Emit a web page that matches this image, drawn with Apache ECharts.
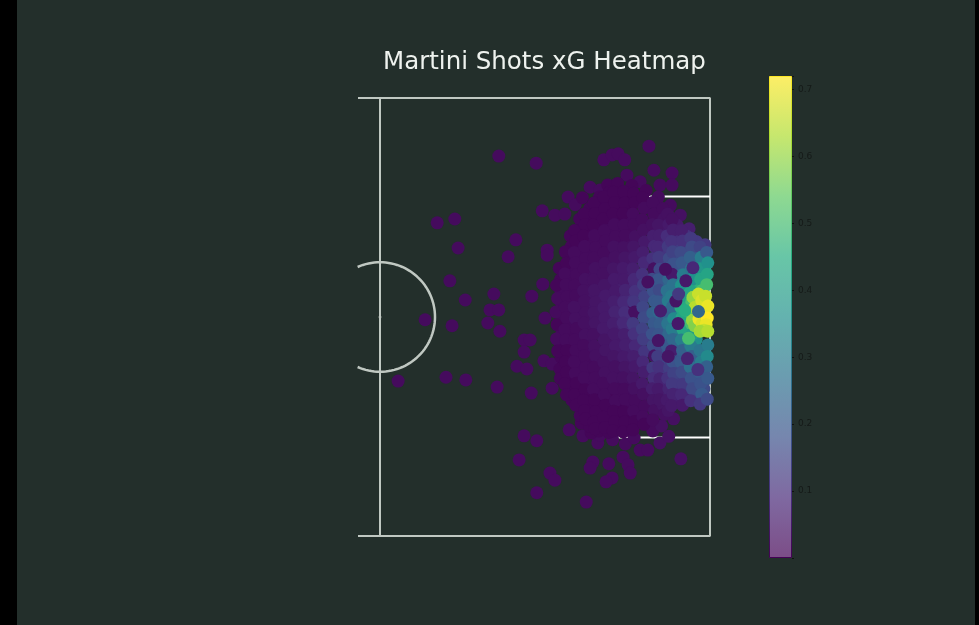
<!DOCTYPE html>
<html><head><meta charset="utf-8">
<script src="https://cdn.jsdelivr.net/npm/echarts@6/dist/echarts.min.js"></script>
<style>html,body{margin:0;padding:0;background:#000;overflow:hidden}#c{position:absolute;left:17px;top:0;width:958px;height:625px}</style>
</head><body><div id="c"></div><script>
const titleText = 'Martini Shots xG Heatmap';
const colorbarTicks = [0.1,0.2,0.3,0.4,0.5,0.6,0.7];
const viridis = ['#440154','#472d7b','#3b528b','#2c728e','#21918c','#27ad81','#5ec962','#addc30','#fde725'];
const viridisFaded = ['#7c4d87','#7f69a1','#7686ae','#6b9cb0','#64b2af','#68c6a7','#8ed991','#c6e76e','#fdee66'];
// [x, y, xG] in pitch units
const outlierShots = [[81.6,10.6,.02],[88.4,11.9,.02],[100.7,11.3,.02],[102.2,10.4,.02],[103.3,10.2,.02],[108.9,8.8,.02],[70.4,22.8,.02],[73.6,22.1,.02],[74.2,27.4,.02],[84.7,25.9,.02],[89.5,20.6,.02],[83.3,29,.02],[90.4,27.8,.02],[90.4,28.7,.02],[72.7,33.4,.02],[75.5,36.9,.02],[80.7,35.8,.02],[80,38.7,.02],[81.6,38.7,.02],[79.6,41.1,.02],[81.8,42.6,.02],[68.2,40.5,.02],[73.1,41.6,.02],[89.6,34,.02],[87.6,36.2,.02],[90,40.2,.02],[86.2,44.2,.02],[87.3,44.2,.02],[86.2,46.4,.02],[84.9,49,.02],[86.7,49.5,.02],[89.8,48,.02],[91.3,48.6,.02],[72,51,.02],[75.6,51.5,.02],[63.3,51.7,.02],[81.3,52.8,.02],[87.5,53.9,.02],[91.3,53,.02],[86.2,61.7,.02],[88.5,62.6,.02],[85.3,66.1,.02],[90.9,68.5,.02],[91.8,69.8,.02],[88.5,72.1,.02],[97.5,73.8,.02],[98.7,66.5,.02],[98.2,67.6,.02],[101.6,66.8,.02],[104.2,65.6,.02],[105.1,67,.02],[105.5,68.5,.02],[102.2,69.4,.02],[101.1,70.1,.02],[114.7,65.9,.03],[94.4,60.6,.02],[96.9,61.7,.02],[99.6,63,.02],[100,61.6,.02],[107.3,64.3,.02],[108.7,64.3,.02],[110.9,63,.03],[104.5,11.3,.02],[109.8,13.2,.02],[113.1,13.7,.02],[104.9,14.1,.02],[107.3,15.3,.02],[110.9,15.9,.02],[113.1,15.9,.02],[94.2,18.1,.02],[91.8,21.4,.02],[93.6,21.2,.02],[98.2,16.3,.02],[100,16.8,.02],[95.5,19.5,.02],[102.3,62.4,.02],[104.6,63.2,.02],[112.5,61.8,.03],[106.2,62.1,.02],[101.4,15.9,.01],[103.2,15.6,.01],[105.8,16,.01],[108.4,16.9,.01],[96.8,18.2,.01],[110.6,18.1,.02],[112.8,19.6,.02],[114.6,21.4,.03],[116.2,23.9,.06],[109.6,60.8,.02],[111.2,59.9,.03],[113.4,58.6,.03],[96.6,59.4,.01],[98.4,61.2,.01]];
const longRangeFill = [[92.6,31.1,.01],[92.8,33.2,.01],[92.9,35.4,.02],[93,37.4,.02],[92.8,39.4,.02],[93,43.2,.02],[92.8,45.2,.01],[92.9,47.3,.01],[92.7,49.5,.01],[92.8,51.2,.01],
[94.6,25.2,.01],[94.8,27.1,.01],[94.7,29.1,.02],[94.9,31.2,.02],[94.6,33.1,.02],[94.8,35.3,.02],[94.7,37.2,.03],[94.9,39.1,.03],[94.6,41.2,.02],[94.8,43.1,.02],[94.7,45.3,.02],[94.9,47.2,.02],[94.6,49.1,.01],[94.8,51.2,.01],[94.7,53.1,.01],[94.9,55.2,.01],
[96.3,22.1,.01],[96.5,24.2,.01],[96.2,26.1,.01],[96.4,28.2,.02],[96.6,30.1,.02],[96.3,32.3,.02],[96.5,34.2,.03],[96.2,36.1,.03],[96.4,38.2,.03],[96.6,40.1,.03],[96.3,42.3,.03],[96.5,44.2,.02],[96.2,46.1,.02],[96.4,48.2,.02],[96.6,50.1,.02],[96.3,52.3,.01],[96.5,54.2,.01],[96.2,56.1,.01],[96.4,58,.01],
[98.1,20.2,.01],[98.3,22.1,.01],[98,24.2,.01],[98.2,26.1,.02],[98.4,28.3,.02],[98.1,30.2,.02],[98.3,32.1,.03],[98,34.2,.03],[98.2,36.1,.04],[98.4,38.3,.04],[98.1,40.2,.04],[98.3,42.1,.03],[98,44.2,.03],[98.2,46.1,.03],[98.4,48.3,.02],[98.1,50.2,.02],[98.3,52.1,.02],[98,54.2,.01],[98.2,56.1,.01],[98.4,58.3,.01],[98.1,60,.01],
[99.9,18.1,.01],[100.1,19.3,.01],[99.8,21.2,.01],[100,23.1,.01],[100.2,25.3,.02],[99.9,27.2,.02],[100.1,29.1,.03],[99.8,31.2,.03],[100,33.1,.04],[100.2,35.3,.04],[99.9,37.2,.05],[100.1,39.1,.05],[99.8,41.2,.04],[100,43.1,.04],[100.2,45.3,.03],[99.9,47.2,.03],[100.1,49.1,.02],[99.8,51.2,.02],[100,53.1,.02],[100.2,55.3,.01],[99.9,57.2,.01],[100.1,59.1,.01],[99.8,60.8,.01],
[101.7,17.2,.01],[101.9,18.9,.01],[101.6,21.1,.01],[101.8,23.2,.02],[102,25.1,.02],[101.7,27.3,.02],[101.9,29.2,.03],[101.6,31.1,.03],[101.8,33.2,.04],[102,35.1,.05],[101.7,37.3,.05],[101.9,39.2,.06],[101.6,41.1,.05],[101.8,43.2,.05],[102,45.1,.04],[101.7,47.3,.03],[101.9,49.2,.03],[101.6,51.1,.02],[101.8,53.2,.02],[102,55.1,.01],[101.7,57.3,.01],[101.9,59.2,.01],[101.6,61.1,.01],
[103.5,18.1,.01],[103.7,20.2,.01],[103.4,22.1,.01],[103.6,24.2,.02],[103.8,26.1,.02],[103.5,28.3,.03],[103.7,30.2,.04],[103.4,32.1,.05],[103.6,34.2,.06],[103.8,36.1,.07],[103.5,38.3,.07],[103.7,40.2,.07],[103.4,42.1,.07],[103.6,44.2,.05],[103.8,46.1,.05],[103.5,48.3,.04],[103.7,50.2,.03],[103.4,52.1,.02],[103.6,54.2,.02],[103.8,56.1,.01],[103.5,58.3,.01],[103.7,60.2,.01],
[105.3,18.2,.01],[105.5,20.1,.01],[105.2,22.2,.02],[105.4,24.1,.02],[105.6,26.3,.03],[105.3,28.2,.04],[105.5,30.1,.05],[105.2,32.2,.06],[105.4,34.1,.08],[105.6,36.3,.09],[105.3,38.2,.03],[105.5,40.1,.1],[105.2,42.2,.09],[105.4,44.1,.07],[105.6,46.3,.06],[105.3,48.2,.05],[105.5,50.1,.04],[105.2,52.2,.03],[105.4,54.1,.02],[105.6,56.3,.02],[105.3,58.2,.01],[105.5,60.1,.01]];
const longRangeShots = [[92.1,34.2,.01],[92.3,36.6,.02],[92,39.1,.02],[92.2,41.4,.01],[92.1,44,.02],[92.3,46.2,.01],
[93.7,28.1,.01],[93.9,30.2,.01],[93.6,32.1,.02],[93.8,34.1,.02],[94,36.3,.02],[93.7,38.2,.02],[93.9,40.1,.02],[93.6,42.3,.02],[93.8,44.2,.02],[94,46.1,.01],[93.7,48.2,.01],[93.9,50.1,.01],[93.6,52.2,.01],[93.9,54.2,.01],
[95.4,24.2,.01],[95.6,26.1,.01],[95.3,28.2,.02],[95.5,30.1,.02],[95.7,32.3,.02],[95.4,34.2,.02],[95.6,36.1,.02],[95.3,38.2,.03],[95.5,40.3,.03],[95.7,42.1,.02],[95.4,44.2,.02],[95.6,46.1,.02],[95.3,48.2,.02],[95.5,50.3,.02],[95.7,52.1,.01],[95.4,54.2,.01],[95.6,56.1,.01],
[97.1,21.2,.01],[97.3,23.1,.01],[97,25.2,.01],[97.2,27.1,.02],[97.4,29.3,.02],[97.1,31.2,.02],[97.3,33.1,.03],[97,35.2,.03],[97.2,37.1,.03],[97.4,39.2,.03],[97.1,41.1,.03],[97.3,43.3,.03],[97,45.2,.02],[97.2,47.1,.02],[97.4,49.2,.02],[97.1,51.1,.02],[97.3,53.3,.01],[97,55.2,.01],[97.2,57.1,.01],[97.4,58.6,.01]];
const edgeOfBoxShots = [[98.9,19.2,.01],[99.1,21.1,.01],[98.8,23.2,.01],[99,25.1,.02],[99.2,27.3,.02],[98.9,29.2,.02],[99.1,31.1,.03],[98.8,33.2,.03],[99,35.1,.04],[99.2,37.3,.04],[98.9,39.2,.04],[99.1,41.1,.04],[98.8,43.2,.03],[99,45.3,.03],[99.2,47.1,.03],[98.9,49.2,.02],[99.1,51.1,.02],[98.8,53.2,.02],[99,55.1,.01],[99.2,57.3,.01],[98.9,59.2,.01],[99.1,60.4,.01],
[100.7,18.1,.01],[100.9,20.2,.01],[100.6,22.1,.01],[100.8,24.2,.02],[101,26.1,.02],[100.7,28.3,.02],[100.9,30.2,.03],[100.6,32.1,.03],[100.8,34.2,.04],[101,36.1,.05],[100.7,38.3,.05],[100.9,40.2,.05],[100.6,42.1,.05],[100.8,44.2,.04],[101,46.1,.04],[100.7,48.3,.03],[100.9,50.2,.03],[100.6,52.1,.02],[100.8,54.2,.02],[101,56.1,.01],[100.7,58.3,.01],[100.9,60.2,.01],
[102.5,17.2,.01],[102.7,19.1,.01],[102.4,21.2,.01],[102.6,23.1,.02],[102.8,25.3,.02],[102.5,27.2,.03],[102.7,29.1,.03],[102.4,31.2,.04],[102.6,33.1,.05],[102.8,35.3,.05],[102.5,37.2,.06],[102.7,39.1,.07],[102.4,41.2,.06],[102.6,43.1,.05],[102.8,45.3,.05],[102.5,47.2,.04],[102.7,49.1,.03],[102.4,51.2,.03],[102.6,53.1,.02],[102.8,55.3,.02],[102.5,57.2,.01],[102.7,59.1,.01],[102.4,60.8,.01],
[104.3,17.1,.01],[104.5,19.2,.01],[104.2,21.1,.01],[104.4,23.2,.02],[104.6,25.1,.02],[104.3,27.3,.03],[104.5,29.2,.04],[104.2,31.1,.05],[104.4,33.2,.05],[104.6,35.1,.07],[104.3,37.3,.08],[104.5,39.2,.09],[104.2,41.1,.08],[104.4,43.2,.06],[104.6,45.1,.06],[104.3,47.3,.05],[104.5,49.2,.04],[104.2,51.1,.03],[104.4,53.2,.02],[104.6,55.1,.02],[104.3,57.3,.01],[104.5,59.2,.01],[104.2,61,.01]];
const insideBoxShots = [[106.1,17.4,.01],[106.3,19.1,.01],[106,21.2,.02],[106.2,23.1,.02],[106.4,25.3,.03],[106.1,27.2,.04],[106.3,29.1,.05],[106,31.2,.06],[106.2,33.1,.08],[106.4,35.3,.1],[106.1,37.2,.11],[106.3,39.1,.03],[106,41.2,.12],[106.2,43.1,.1],[106.4,45.3,.08],[106.1,47.2,.06],[106.3,49.1,.05],[106,51.2,.04],[106.2,53.1,.03],[106.4,55.3,.02],[106.1,57.2,.02],[106.3,59.1,.01],[106,60.6,.01],
[107.8,18.2,.01],[108,20.1,.02],[107.7,22.2,.02],[107.9,24.1,.03],[108.1,26.3,.05],[107.8,28.2,.06],[108,30.1,.08],[107.7,32.2,.1],[107.9,34.1,.13],[108.1,36.3,.14],[107.8,38.2,.15],[108,40.1,.16],[107.7,42.2,.14],[107.9,44.1,.13],[108.1,46.3,.11],[107.8,48.2,.08],[108,50.1,.06],[107.7,52.2,.05],[107.9,54.1,.03],[108.1,56.3,.02],[107.8,58.2,.02],[108,59.6,.01],
[109.6,19.1,.02],[109.8,21.2,.02],[109.5,23.1,.03],[109.7,25.2,.06],[109.9,27.1,.08],[109.6,29.3,.1],[109.8,31.2,.03],[109.5,33.1,.16],[109.7,35.2,.18],[109.9,37.1,.2],[109.6,39.3,.22],[109.8,41.2,.2],[109.5,43.1,.18],[109.7,45.2,.16],[109.9,47.1,.04],[109.6,49.3,.12],[109.8,51.2,.09],[109.5,53.1,.06],[109.7,55.2,.04],[109.9,57.1,.03],[109.6,58.8,.02],
[111.4,20.2,.02],[111.6,22.1,.03],[111.3,24.2,.05],[111.5,26.1,.08],[111.7,28.3,.11],[111.4,30.2,.14],[111.6,32.1,.18],[111.3,34.2,.22],[111.5,36.1,.25],[111.7,38.3,.28],[111.4,40.2,.26],[111.6,42.1,.24],[111.3,44.2,.22],[111.5,46.1,.2],[111.7,48.3,.15],[111.4,50.2,.12],[111.6,52.1,.09],[111.3,54.2,.06],[111.5,56.1,.04],[111.7,57.8,.03]];
const insideBoxFill = [[110.6,23.2,.04],[110.8,25.1,.06],[110.5,27.2,.08],[110.7,29.1,.12],[110.9,31.3,.15],[110.6,33.2,.19],[110.8,35.1,.16],[110.5,37.2,.2],[110.7,39.1,.24],[110.9,41.3,.21],[110.6,43.2,.19],[110.8,45.1,.15],[110.5,47.2,.13],[110.7,49.1,.1],[110.9,51.3,.07],[110.6,53.2,.05],[110.8,55.1,.04],
[112.3,21.2,.03],[112.5,23.1,.05],[112.2,25.2,.09],[112.4,27.1,.12],[112.6,29.3,.16],[112.3,31.2,.2],[112.5,33.1,.24],[112.2,35.2,.27],[112.4,37.1,.3],[112.6,39.3,.22],[112.3,41.2,.28],[112.5,43.1,.24],[112.2,45.2,.2],[112.4,47.1,.17],[112.6,49.3,.13],[112.3,51.2,.1],[112.5,53.1,.07],[112.2,55.2,.05],[112.4,57.1,.04],
[114,23.2,.05],[114.2,25.1,.09],[113.9,27.2,.13],[114.1,29.1,.17],[114.3,31.3,.22],[114,33.2,.3],[114.2,35.1,.34],[113.9,37.2,.36],[114.1,39.1,.38],[114.3,41.3,.3],[114,43.2,.3],[114.2,45.1,.24],[113.9,47.2,.2],[114.1,49.1,.16],[114.3,51.3,.13],[114,53.2,.09],[114.2,55.1,.06],
[115.7,25.2,.1],[115.9,27.1,.14],[115.6,29.2,.18],[115.8,31.1,.24],[116,33.3,.33],[115.7,35.2,.4],[115.9,37.1,.46],[115.6,39.2,.48],[115.8,41.1,.46],[116,43.3,.34],[115.7,45.2,.26],[115.9,47.3,.2],[115.6,49.2,.2],[115.8,51.1,.16],[116,53.3,.12],[115.7,55.2,.08],
[117.5,26.2,.12],[117.7,28.1,.2],[117.4,30.2,.3],[117.6,32.1,.36],[117.8,34.3,.46],[117.5,44.1,.36],[117.7,46.2,.28],[117.4,48.1,.24],[117.6,50.2,.2],[117.8,52.1,.16],[117.5,54.2,.14],[118.8,50.4,.22],[118.9,53.1,.16],[119.1,26.8,.12]];
const closeRangeShots = [[113.1,22.2,.03],[113.3,24.1,.06],[113,26.2,.1],[113.2,28.1,.14],[113.4,30.3,.18],[113.1,32.2,.05],[113.3,34.1,.27],[113,36.2,.3],[113.2,38.1,.24],[113.4,40.3,.34],[113.1,42.2,.3],[113.3,44.1,.24],[113,46.2,.06],[113.2,48.1,.18],[113.4,50.3,.14],[113.1,52.2,.12],[113.3,54.1,.07],[113,56.2,.05],
[114.8,24.2,.06],[115,26.1,.1],[114.7,28.2,.16],[114.9,30.1,.2],[115.1,32.3,.3],[114.8,34.2,.36],[115,36.1,.4],[114.7,38.2,.44],[114.9,40.1,.42],[115.1,42.3,.42],[114.8,44.2,.3],[115,46.1,.22],[114.7,48.2,.2],[114.9,50.1,.16],[115.1,52.3,.12],[114.8,54.2,.08],[115,56.1,.05],
[116.5,25.6,.12],[116.7,27.2,.16],[116.4,29.1,.22],[116.6,31.2,.28],[116.8,33.1,.36],[116.5,35.3,.42],[116.7,37.2,.5],[116.4,39.1,.54],[116.6,41.2,.5],[116.8,43.1,.4],[116.5,45.3,.3],[116.7,47.2,.22],[116.4,49.1,.26],[116.6,51.2,.18],[116.8,53.1,.16],[116.5,55.3,.1],
[118.2,27.2,.14],[118.4,29.1,.3],[118.1,31.2,.38],[118.3,33.1,.42],[118.5,35.2,.5],[118.2,46.1,.28],[118.4,48.2,.3],[118.1,50.1,.2],[118.3,52.2,.18],[118.5,54.1,.2],[118.2,55.9,.12],
[119.4,28.2,.2],[119.6,30.1,.36],[119.5,32.2,.42],[119.4,34.1,.5],[119.6,45.1,.3],[119.5,47.2,.34],[119.4,49.1,.22],[119.6,51.2,.2],[119.5,55,.16]];
const sixYardShots = [[116.9,36.4,.6],[117.3,38.2,.64],[116.8,40.6,.6],[117.2,41.6,.58],[117.9,35.8,.66],[118.5,37,.68],[118,40.4,.7],[118.6,41.2,.68],[119.2,36.2,.66],[119.6,38,.7],[119.5,40.2,.72],[119.3,41.4,.7],[118.9,42.4,.66],[118.2,42.6,.62],[119.6,42.6,.64],[117.9,39,.24]];
const scatteredLowXgShots = [[111.9,31.3,.03],[113.8,37.1,.04],[115.6,33.4,.05],[114.2,41.2,.05],[110.6,44.3,.04],[108.7,33.6,.03],[112.4,47.2,.04],[115.9,47.6,.07],[116.9,31,.08],[114.3,35.8,.12],[111,38.9,.06],[117.8,49.6,.1],[115.4,38.8,.45],[116.1,43.9,.5]];
const pitchBorder = [[56,0],[120,0],[120,80],[56,80]];
const halfwayLine = [[60,0],[60,80]];
const penaltyBox = [[120,18],[102,18],[102,62],[120,62]];
const sixYardBox = [[120,30],[114,30],[114,50],[120,50]];
const centreSpot = [[60,40]];
const centreCircle = {cx:60, cy:40, r:10};

const circleLine = [];
for (let a = -114; a <= 114; a += 3) {
  circleLine.push([centreCircle.cx + centreCircle.r*Math.cos(a*Math.PI/180), centreCircle.cy + centreCircle.r*Math.sin(a*Math.PI/180)]);
}
const shots = [...outlierShots,...longRangeFill,...longRangeShots,...edgeOfBoxShots,...insideBoxShots,...insideBoxFill,...closeRangeShots,...sixYardShots,...scatteredLowXgShots];
const stops = c => c.map((color,i)=>({offset:1-i/(c.length-1),color}));
const grad = c => new echarts.graphic.LinearGradient(0,0,0,1,stops(c));
const lineSeries = (data,color,w) => ({type:'line',xAxisIndex:0,yAxisIndex:0,data,showSymbol:false,silent:true,clip:false,z:1,animation:false,lineStyle:{color,width:w}});

const chart = echarts.init(document.getElementById('c'),null,{renderer:'canvas'});
chart.setOption({
  backgroundColor:'#232f2b',
  animation:false,
  title:{text:titleText,left:361,top:45,textStyle:{color:'#eef2ee',fontFamily:'DejaVu Sans',fontSize:24.5,fontWeight:'normal'}},
  grid:[{left:341,top:98,width:352,height:438},{left:752,top:76,width:23,height:482}],
  xAxis:[{type:'value',min:56,max:120,show:false,gridIndex:0},{type:'category',data:['xG'],show:false,gridIndex:1}],
  yAxis:[{type:'value',min:0,max:80,inverse:true,show:false,gridIndex:0},
    {type:'value',gridIndex:1,position:'right',min:0,max:0.72,interval:0.1,splitLine:{show:false},axisLine:{show:false},
     axisTick:{show:true,length:2,lineStyle:{color:'#111',width:1}},
     axisLabel:{color:'#151a18',fontSize:9,margin:6,padding:[2,0,0,0],fontFamily:'DejaVu Sans',customValues:colorbarTicks,formatter:v=>v.toFixed(1)}}],
  visualMap:[{show:false,type:'continuous',seriesIndex:6,dimension:2,min:0,max:0.72,inRange:{color:viridis}}],
  series:[
    lineSeries(pitchBorder,'#c0c8c2',2),
    lineSeries(halfwayLine,'#c0c8c2',2),
    lineSeries(circleLine,'#c0c8c2',2.5),
    lineSeries(penaltyBox,'#ffffff',2),
    lineSeries(sixYardBox,'#ffffff',2),
    {type:'scatter',xAxisIndex:0,yAxisIndex:0,data:centreSpot,symbolSize:3,itemStyle:{color:'#c0c8c2'},z:1,silent:true},
    {type:'scatter',xAxisIndex:0,yAxisIndex:0,data:shots,symbolSize:13,clip:false,z:2,silent:true,itemStyle:{opacity:1},progressive:0,large:false},
    {type:'bar',xAxisIndex:1,yAxisIndex:1,data:[0.72],barWidth:'100%',silent:true,
     itemStyle:{color:grad(viridisFaded),borderColor:grad(viridis),borderWidth:1}}
  ]
});
</script></body></html>
